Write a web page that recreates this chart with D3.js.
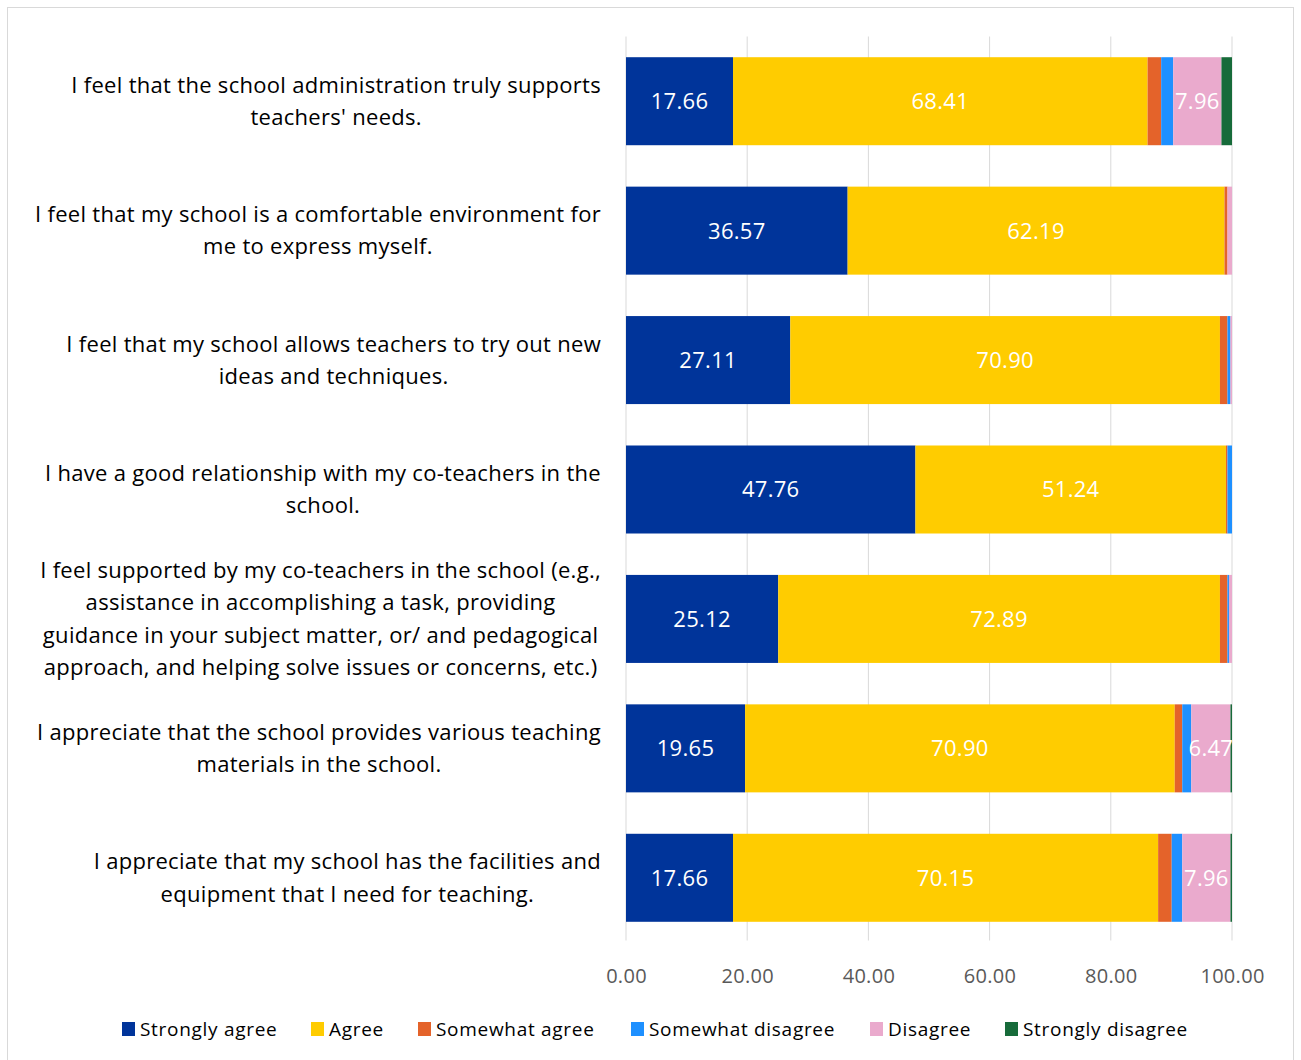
<!DOCTYPE html>
<html><head><meta charset="utf-8">
<script src="https://cdn.jsdelivr.net/npm/d3@7"></script>
<style>body{margin:0;background:#fff;} svg{display:block;}</style>
</head><body>
<svg id="chart" width="1301" height="1060"></svg>
<script>
const categories = [
  ["I feel that the school administration truly supports", "teachers' needs."],
  ["I feel that my school is a comfortable environment for", "me to express myself."],
  ["I feel that my school allows teachers to try out new", "ideas and techniques."],
  ["I have a good relationship with my co-teachers in the", "school."],
  ["I feel supported by my co-teachers in the school (e.g.,", "assistance in accomplishing a task, providing", "guidance in your subject matter, or/ and pedagogical", "approach, and helping solve issues or concerns, etc.)"],
  ["I appreciate that the school provides various teaching", "materials in the school."],
  ["I appreciate that my school has the facilities and", "equipment that I need for teaching."]
];
const seriesNames = ["Strongly agree","Agree","Somewhat agree","Somewhat disagree","Disagree","Strongly disagree"];
const colors = ["#00349a","#ffcc00","#e4632a","#1e90ff","#eaaacd","#176b3a"];
const stronglyAgree   = [17.66, 36.57, 27.11, 47.76, 25.12, 19.65, 17.66];
const agree           = [68.41, 62.19, 70.90, 51.24, 72.89, 70.90, 70.15];
const somewhatAgree   = [2.24, 0.50, 1.24, 0.25, 1.24, 1.24, 2.24];
const somewhatDisagree= [1.99, 0.00, 0.50, 0.75, 0.25, 1.49, 1.74];
const disagree        = [7.96, 0.75, 0.25, 0.00, 0.50, 6.47, 7.96];
const stronglyDisagree= [1.74, 0.00, 0.00, 0.00, 0.00, 0.25, 0.25];
const xTicks = [0,20,40,60,80,100];

const series = [stronglyAgree, agree, somewhatAgree, somewhatDisagree, disagree, stronglyDisagree];
const FONT = "'Open Sans', sans-serif";
const svg = d3.select("#chart");

svg.append("rect").attr("x",7.5).attr("y",7.5).attr("width",1286).attr("height",1060)
  .attr("fill","#fff").attr("stroke","#d9d9d9").attr("stroke-width",1);

const pLeft = 626, pRight = 1232, pTop = 36.5, pBottom = 942.5;
const x = d3.scaleLinear().domain([0,100]).range([pLeft,pRight]);
const y = d3.scaleBand().domain(d3.range(categories.length)).range([pTop,pBottom]).paddingInner(0.32).paddingOuter(0.16);

// gridlines
svg.append("g").selectAll("line").data(xTicks).join("line")
  .attr("x1",d=>x(d)).attr("x2",d=>x(d)).attr("y1",pTop).attr("y2",pBottom-2)
  .attr("stroke","#d9d9d9").attr("stroke-width",1);

// axis
const axis = d3.axisBottom(x).tickValues(xTicks).tickSize(0).tickPadding(0).tickFormat(d=>d.toFixed(2));
const ag = svg.append("g").attr("transform",`translate(0,${pBottom})`).call(axis);
ag.select(".domain").remove();
ag.selectAll("text").attr("y",40).attr("dy",0).attr("font-family",FONT).attr("font-size",20).attr("letter-spacing",0.3).attr("fill","#595959");

// stacked
const rows = categories.map((c,i)=>{ const o={i}; seriesNames.forEach((s,k)=>o[s]=series[k][i]); return o; });
const stacked = d3.stack().keys(seriesNames)(rows);
const g = svg.append("g");
stacked.forEach((layer,k)=>{
  g.append("g").attr("fill",colors[k]).selectAll("rect").data(layer).join("rect")
    .attr("x",d=>x(d[0])).attr("width",d=>Math.max(0,x(d[1])-x(d[0])))
    .attr("y",(d,i)=>y(i)).attr("height",y.bandwidth());
});
// labels
const lg = svg.append("g");
stacked.forEach((layer,k)=>{
  lg.selectAll(null).data(layer.filter(d=>d[1]-d[0]>5)).join("text")
    .attr("x",d=>(x(d[0])+x(d[1]))/2).attr("y",d=>y(d.data.i)+y.bandwidth()/2)
    .attr("dy","0.36em").attr("text-anchor","middle")
    .attr("font-family",FONT).attr("font-size",22).attr("letter-spacing",0.3).attr("fill","#fff")
    .text(d=>(d[1]-d[0]).toFixed(2));
});

// category labels
const lineH = 32.3;
categories.forEach((lines,i)=>{
  const cy = y(i)+y.bandwidth()/2;
  const t = svg.append("text").attr("font-family",FONT).attr("font-size",22).attr("letter-spacing",0.3).attr("fill","#000").attr("text-anchor","middle");
  const spans = lines.map((ln,j)=> t.append("tspan").text(ln));
  let maxW = 0;
  spans.forEach(s=>{ maxW = Math.max(maxW, s.node().getComputedTextLength()); });
  const cx = 601 - maxW/2;
  const y0 = cy - (lines.length-1)*lineH/2;
  spans.forEach((s,j)=> s.attr("x",cx).attr("y",y0+j*lineH).attr("dy","0.35em"));
});

// legend
const legX = [122,311,418,631,870,1005];
const leg = svg.append("g");
seriesNames.forEach((s,k)=>{
  leg.append("rect").attr("x",legX[k]).attr("y",1022).attr("width",13).attr("height",14).attr("fill",colors[k]);
  leg.append("text").attr("x",legX[k]+18).attr("y",1029).attr("dy","0.35em")
    .attr("font-family",FONT).attr("font-size",19).attr("letter-spacing",0.7).attr("fill","#000").text(s);
});
</script>
</body></html>
